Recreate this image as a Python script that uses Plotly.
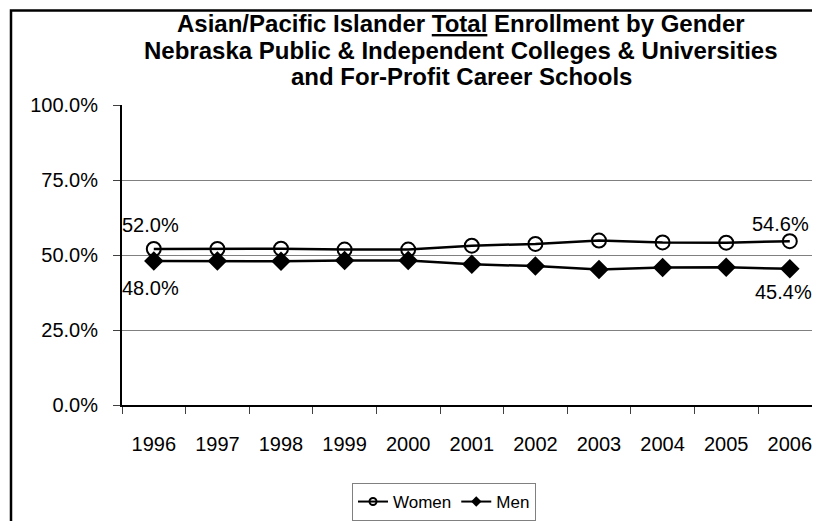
import plotly.graph_objects as go

years = ["1996", "1997", "1998", "1999", "2000", "2001", "2002", "2003", "2004", "2005", "2006"]
women = [52.0, 52.0, 52.1, 51.8, 51.8, 53.1, 53.7, 54.8, 54.2, 54.1, 54.6]
men = [48.0, 48.0, 47.9, 48.2, 48.2, 46.9, 46.3, 45.2, 45.8, 45.9, 45.4]
y_ticks = [0, 25, 50, 75, 100]
y_tick_text = ["0.0%", "25.0%", "50.0%", "75.0%", "100.0%"]

FONT = "Liberation Sans, Arial, sans-serif"
PW = 690.0  # plot width in px (page x 122 .. 812)

fig = go.Figure()
fig.add_trace(go.Scatter(
    x=years, y=women, name="Women", mode="lines+markers", showlegend=False,
    line=dict(color="black", width=2.5),
    marker=dict(symbol="circle-open", size=14, color="black", line=dict(width=2, color="black")),
))
fig.add_trace(go.Scatter(
    x=years, y=men, name="Men", mode="lines+markers", showlegend=False,
    line=dict(color="black", width=2.5),
    marker=dict(symbol="diamond", size=15, color="black"),
))
# legend entries (smaller symbols, as in the reference legend)
fig.add_trace(go.Scatter(
    x=[None], y=[None], name="Women", mode="lines+markers",
    line=dict(color="black", width=2),
    marker=dict(symbol="circle-open", size=7, color="black", line=dict(width=2, color="black")),
))
fig.add_trace(go.Scatter(
    x=[None], y=[None], name="Men", mode="lines+markers",
    line=dict(color="black", width=2),
    marker=dict(symbol="diamond", size=8, color="black"),
))

# data labels for first and last points
last = len(years) - 1
label_specs = [
    (0, women[0], 24, -3),
    (0, men[0], -27, -3),
    (last, women[last], 17, -9),
    (last, men[last], -23, -6),
]
for i, v, ys, xs in label_specs:
    fig.add_annotation(x=i, y=v, text=f"{v:.1f}%", showarrow=False,
                       yshift=ys, xshift=xs, font=dict(family=FONT, size=20, color="black"))

title_lines = [
    "<b>Asian/Pacific Islander <u>Total</u> Enrollment by Gender</b>",
    "<b>Nebraska Public &amp; Independent Colleges &amp; Universities</b>",
    "<b>and For-Profit Career Schools</b>",
]
for k, t in enumerate(title_lines):
    fig.add_annotation(xref="paper", yref="paper", x=(461 - 122) / PW,
                       y=1 + (105 - (23 + 26.5 * k)) / 303, text=t, showarrow=False,
                       xanchor="center", yanchor="middle",
                       font=dict(family=FONT, size=24, color="black"))

# outer chart border
fig.add_shape(type="rect", xref="paper", yref="paper",
              x0=(11 - 122) / PW, x1=1.1, y0=-0.6, y1=(400 - 1.5) / 303,
              line=dict(color="black", width=2.5), layer="above")

fig.update_layout(
    width=804, height=513,
    margin=dict(l=114, r=0, t=97, b=113),
    paper_bgcolor="white", plot_bgcolor="white",
    font=dict(family=FONT, size=20, color="black"),
    showlegend=True,
    legend=dict(orientation="h", x=(352 - 122) / PW, xanchor="left",
                y=(408 - 487) / 303, yanchor="top",
                bordercolor="#808080", borderwidth=1, bgcolor="white",
                font=dict(family=FONT, size=17, color="black"),
                itemwidth=30, tracegroupgap=0),
    xaxis=dict(type="category", range=[-0.5, -0.5 + PW / 63.6], showgrid=False,
               showline=True, linecolor="black", linewidth=2,
               ticks="outside", ticklen=7, tickcolor="#404040", tickwidth=1,
               tickson="boundaries", tickfont=dict(size=20), ticklabelstandoff=20),
    yaxis=dict(range=[0, 100], tickmode="array", tickvals=y_ticks, ticktext=y_tick_text,
               showgrid=True, gridcolor="#808080", gridwidth=1,
               showline=True, linecolor="black", linewidth=2,
               ticks="outside", ticklen=7, tickcolor="#404040", tickwidth=1,
               tickfont=dict(size=20), ticklabelstandoff=11, zeroline=False),
)

fig.write_html("out.html")
